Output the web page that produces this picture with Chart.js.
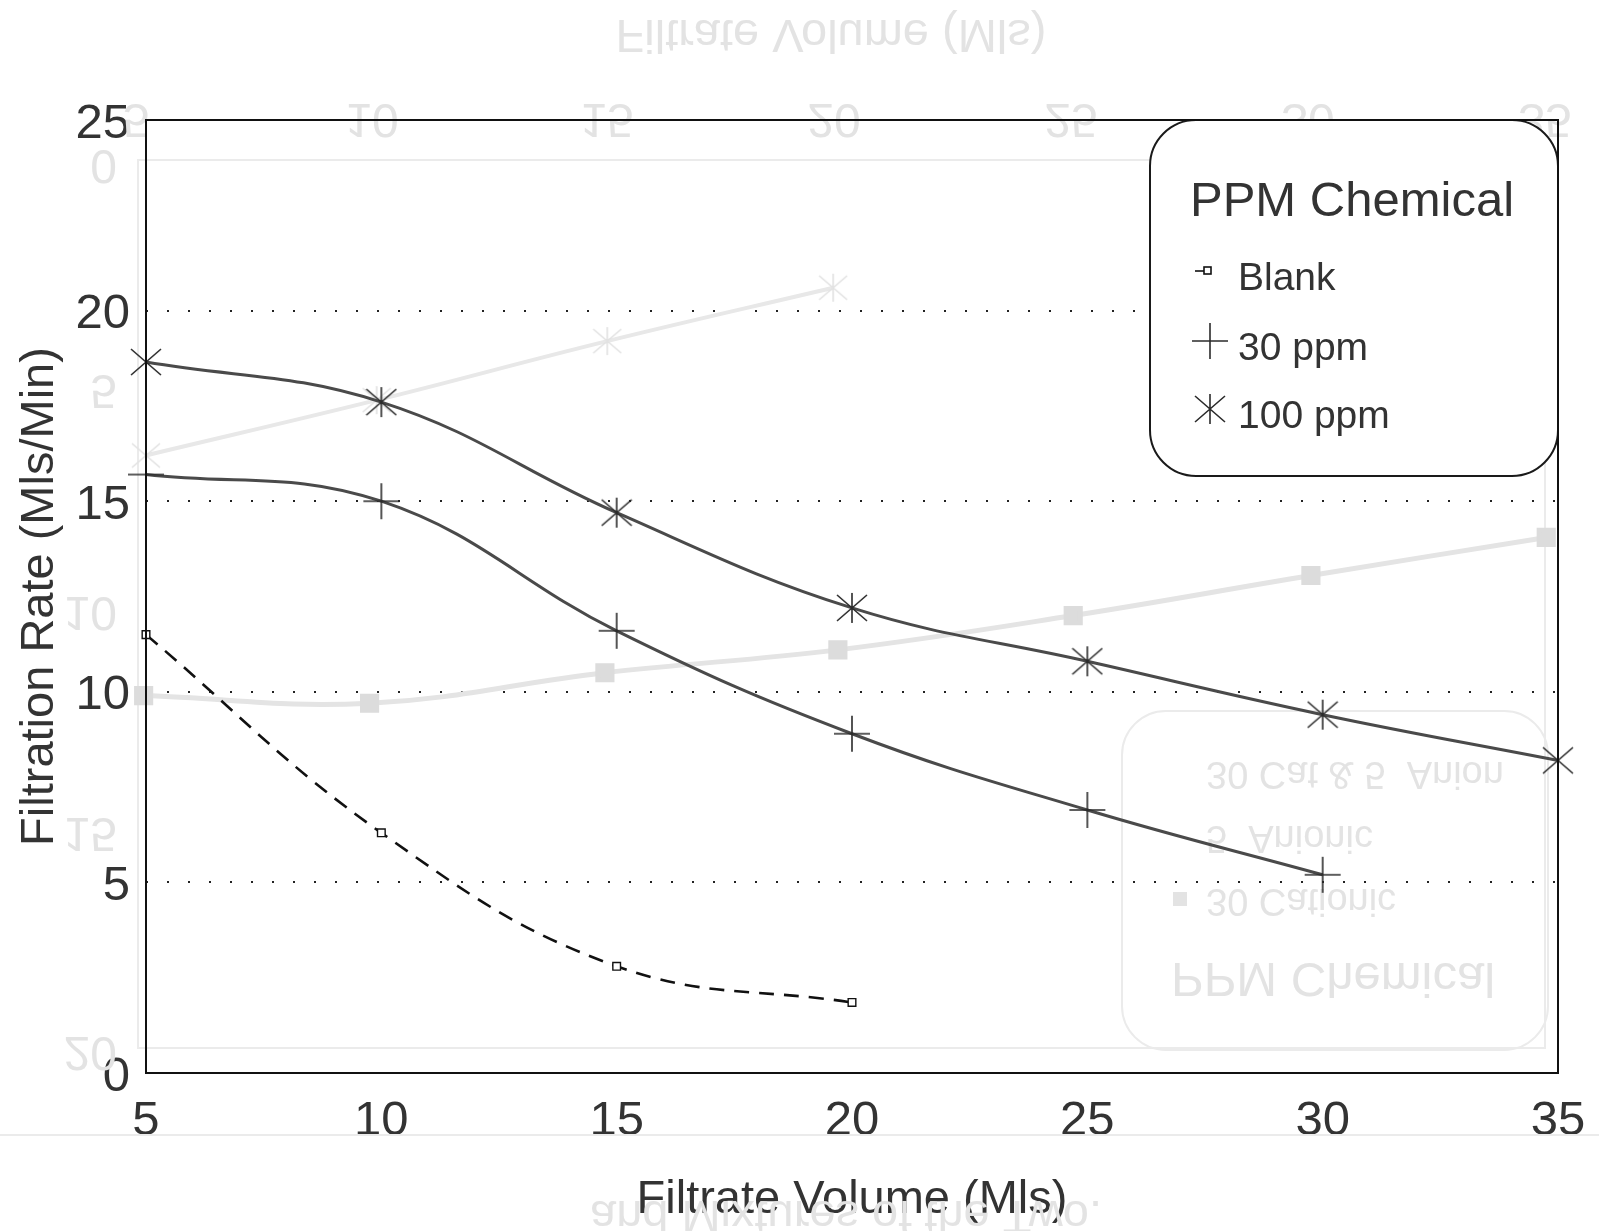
<!DOCTYPE html>
<html>
<head>
<meta charset="utf-8">
<script src="https://cdn.jsdelivr.net/npm/chart.js@4.4.1/dist/chart.umd.min.js"></script>
<style>
  html, body { margin: 0; padding: 0; background: #fff; }
  #wrap { width: 1599px; height: 1231px; }
</style>
</head>
<body>
<div id="wrap"><canvas id="rate_chart" width="1599" height="1231"></canvas></div>
<script>
// Filtrate volume (Mls) at each reading
const volume = [5, 10, 15, 20, 25, 30, 35];
// Filtration rate (Mls/Min) per treatment
const blank = [11.5, 6.3, 2.8, 1.85];
const ppm30 = [15.7, 15.0, 11.6, 8.9, 6.9, 5.2];
const ppm100 = [18.65, 17.6, 14.7, 12.2, 10.8, 9.4, 8.2];
const xTicks = [5, 10, 15, 20, 25, 30, 35];
const yTicks = [0, 5, 10, 15, 20, 25];

// Curves printed on the back of the sheet, showing through faintly
const backVolume = [4.95, 9.75, 14.75, 19.7, 24.7, 29.75, 34.75];
const backCationic = [9.9, 9.7, 10.5, 11.1, 12.0, 13.05, 14.05];
const backMixedVolume = [5, 9.9, 14.8, 19.6];
const backMixed = [16.2, 17.65, 19.2, 20.6];

const FONT = '"Liberation Sans", Arial, Helvetica, sans-serif';
const INK = '#333';
const GHOST = '#e3e3e3';

const pairs = (xs, ys) => ys.map((y, i) => ({ x: xs[i], y: y }));

// small canvases used as point markers
const makeMark = (w, h, color, draw) => {
    const c = document.createElement('canvas');
    c.width = w; c.height = h;
    const g = c.getContext('2d');
    g.strokeStyle = color;
    g.fillStyle = color;
    g.lineWidth = 1.6;
    draw(g, w / 2, h / 2);
    return c;
};
const drawPlus = (g, cx, cy) => {
    g.beginPath();
    g.moveTo(cx, 1); g.lineTo(cx, cy * 2 - 1);
    g.moveTo(1, cy); g.lineTo(cx * 2 - 1, cy);
    g.stroke();
};
const drawStar = (g, cx, cy) => {
    g.beginPath();
    g.moveTo(cx, 1); g.lineTo(cx, cy * 2 - 1);
    g.moveTo(1, 3); g.lineTo(cx * 2 - 1, cy * 2 - 3);
    g.moveTo(1, cy * 2 - 3); g.lineTo(cx * 2 - 1, 3);
    g.stroke();
};
const plusMark = makeMark(38, 38, '#2b2b2b', drawPlus);
const starMark = makeMark(32, 32, '#2b2b2b', drawStar);
const ghostStar = makeMark(30, 30, '#e2e2e2', drawStar);

let Data = {};
let Config = {};

const setup_chart = () => {
    Data = {
        datasets: [{
            label: 'Blank',
            data: pairs(volume, blank),
            borderColor: '#111',
            borderWidth: 2.6,
            borderDash: [15, 10],
            pointStyle: 'rect',
            pointRadius: 5.4,
            pointBackgroundColor: '#fff',
            pointBorderColor: '#111',
            pointBorderWidth: 1.4,
            tension: 0.4,
            clip: false,
            order: 1
        }, {
            label: '30 ppm',
            data: pairs(volume, ppm30),
            borderColor: '#4a4a4a',
            borderWidth: 3,
            pointStyle: plusMark,
            pointRadius: 19,
            tension: 0.4,
            clip: false,
            order: 2
        }, {
            label: '100 ppm',
            data: pairs(volume, ppm100),
            borderColor: '#4a4a4a',
            borderWidth: 3,
            pointStyle: starMark,
            pointRadius: 16,
            tension: 0.4,
            clip: false,
            order: 3
        }, {
            label: '30 Cationic',
            ghost: true,
            data: pairs(backVolume, backCationic),
            borderColor: '#e4e4e4',
            borderWidth: 5,
            pointStyle: 'rect',
            pointRadius: 10,
            pointBackgroundColor: '#dcdcdc',
            pointBorderColor: '#dcdcdc',
            tension: 0.4,
            clip: false,
            order: 10
        }, {
            label: '30 Cat & 5  Anion',
            ghost: true,
            data: pairs(backMixedVolume, backMixed),
            borderColor: '#e8e8e8',
            borderWidth: 4,
            pointStyle: ghostStar,
            pointRadius: 15,
            tension: 0.4,
            clip: false,
            order: 11
        }]
    };

    const backPrint = {
        id: 'backPrint',
        beforeDatasetsDraw(chart) {
            const ctx = chart.ctx;
            const flip = (text, x, y, size, align) => {
                ctx.save();
                ctx.translate(x, y);
                ctx.scale(1, -1);
                ctx.font = size + 'px ' + FONT;
                ctx.textAlign = align || 'center';
                ctx.textBaseline = 'middle';
                ctx.fillText(text, 0, 0);
                ctx.restore();
            };
            ctx.save();
            ctx.fillStyle = GHOST;
            ctx.strokeStyle = '#ebebeb';
            ctx.lineWidth = 2;
            // frame and page edge
            ctx.strokeRect(138, 160, 1407, 888);
            ctx.beginPath();
            ctx.moveTo(0, 1135); ctx.lineTo(1599, 1135);
            ctx.stroke();
            // back-side axis text
            flip('Filtrate Volume (Mls)', 831, 33, 47);
            [136, 372, 607, 834, 1071, 1308, 1545].forEach((x, i) => flip(String(xTicks[i]), x, 117, 48));
            [163, 388, 610, 831, 1050].forEach((y, i) => flip(String(yTicks[i]), 117, y, 48, 'right'));
            flip('and Mixtures of the Two.', 846, 1214, 47);
            // back-side legend
            ctx.beginPath();
            ctx.roundRect(1122, 711, 426, 339, 44);
            ctx.stroke();
            flip('PPM Chemical', 1171, 977, 49, 'left');
            flip('30 Cationic', 1206, 899, 38, 'left');
            flip('5  Anionic', 1206, 836, 38, 'left');
            flip('30 Cat & 5  Anion', 1206, 772, 38, 'left');
            ctx.fillRect(1173, 892, 14, 14);
            ctx.restore();
        }
    };

    const legendBox = {
        id: 'legendBox',
        afterDatasetsDraw(chart) {
            const ctx = chart.ctx;
            const a = chart.chartArea;
            const left = 1150, top = a.top, right = a.right, bottom = 476;
            ctx.save();
            ctx.beginPath();
            ctx.roundRect(left, top, right - left, bottom - top, 46);
            ctx.fillStyle = '#fff';
            ctx.fill();
            ctx.lineWidth = 2;
            ctx.strokeStyle = '#1a1a1a';
            ctx.stroke();

            ctx.fillStyle = INK;
            ctx.textBaseline = 'middle';
            ctx.textAlign = 'left';
            ctx.font = '49px ' + FONT;
            ctx.fillText('PPM Chemical', 1190, 202);

            ctx.font = '39px ' + FONT;
            const rows = [279, 349, 417];
            chart.data.datasets.filter(d => !d.ghost).forEach((d, i) => {
                const y = rows[i];
                const mx = 1210;
                if (d.pointStyle === 'rect') {
                    ctx.strokeStyle = '#111';
                    ctx.lineWidth = 1.6;
                    ctx.beginPath();
                    ctx.moveTo(1195, y - 8); ctx.lineTo(1204, y - 8);
                    ctx.stroke();
                    ctx.fillStyle = '#fff';
                    ctx.fillRect(1204, y - 12, 7, 7);
                    ctx.strokeRect(1204, y - 12, 7, 7);
                } else {
                    const img = d.pointStyle;
                    ctx.drawImage(img, mx - img.width / 2, y - 8 - img.height / 2);
                }
                ctx.fillStyle = INK;
                ctx.fillText(d.label, 1238, y);
            });

            // plot frame
            ctx.strokeStyle = '#111';
            ctx.lineWidth = 2;
            ctx.strokeRect(a.left, a.top, a.right - a.left, a.bottom - a.top);
            ctx.restore();
        }
    };

    Config = {
        type: 'line',
        data: Data,
        options: {
            responsive: false,
            animation: false,
            devicePixelRatio: 1,
            layout: { padding: { top: 120, right: 41, left: 0, bottom: 0 } },
            plugins: { legend: { display: false }, tooltip: { enabled: false } },
            scales: {
                x: {
                    type: 'linear',
                    min: 5,
                    max: 35,
                    afterFit: (scale) => { scale.height = 158; scale.paddingRight = 0; },
                    afterBuildTicks: (scale) => { scale.ticks = xTicks.map(v => ({ value: v })); },
                    grid: { display: false, drawTicks: false },
                    border: { display: false },
                    ticks: { color: INK, padding: 19, font: { family: FONT, size: 49 } },
                    title: {
                        display: true,
                        text: 'Filtrate Volume (Mls)',
                        color: INK,
                        padding: { top: 0, bottom: 3 },
                        font: { family: FONT, size: 47 }
                    }
                },
                y: {
                    min: 0,
                    max: 25,
                    afterFit: (scale) => { scale.width = 146; },
                    afterBuildTicks: (scale) => { scale.ticks = yTicks.map(v => ({ value: v })); },
                    grid: {
                        drawTicks: false,
                        lineWidth: 2,
                        color: (c) => (c.tick && (c.tick.value === 0 || c.tick.value === 25)) ? 'rgba(0,0,0,0)' : '#222'
                    },
                    border: { display: false, dash: [2, 19] },
                    ticks: { color: INK, padding: 16, labelOffset: 4, font: { family: FONT, size: 49 } },
                    title: {
                        display: true,
                        text: 'Filtration Rate (Mls/Min)',
                        color: INK,
                        padding: { top: 12, bottom: 0 },
                        font: { family: FONT, size: 47 }
                    }
                }
            }
        },
        plugins: [backPrint, legendBox]
    };
};

const render_chart = () => {
    const context = document.getElementById('rate_chart');
    new Chart(context, Config);
};

setup_chart();
render_chart();
</script>
</body>
</html>
